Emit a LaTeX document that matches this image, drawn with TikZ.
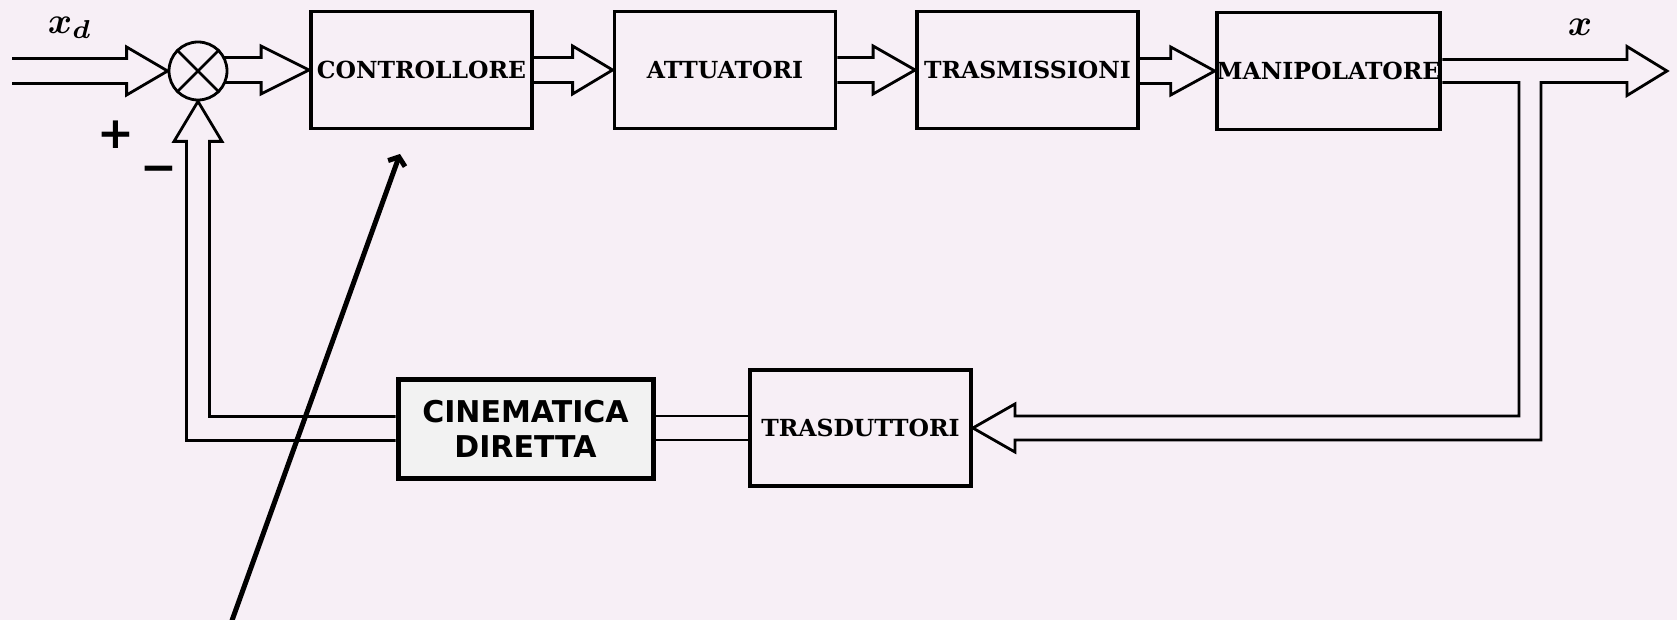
\documentclass[tikz,border=0pt]{standalone}
\usepackage{bm}
\usepackage{fontspec}
\usetikzlibrary{calc,arrows.meta}
\newfontfamily\blockfont{DejaVu Serif}
\newfontfamily\cinfont{DejaVu Sans}
\definecolor{paper}{RGB}{247,239,246}
\definecolor{cingray}{RGB}{242,242,242}
\newcommand\hollowH[3]{% start coord, tip coord, head length
  \draw[conn] let \p1=(#1), \p2=(#2) in
    (\x1,\y2+12.5pt) -- (\x2-#3,\y2+12.5pt) -- (\x2-#3,\y2+24pt) -- (\x2,\y2)
    -- (\x2-#3,\y2-24pt) -- (\x2-#3,\y2-12.5pt) -- (\x1,\y2-12.5pt);}
\begin{document}
\begin{tikzpicture}[x=1pt,y=-1pt,
  block/.style={draw=black, line width=3.8pt, minimum width=221pt, minimum height=117pt,
    inner sep=0pt, font=\blockfont\bfseries\fontsize{23.5}{27}\selectfont},
  cinbox/.style={draw=black, fill=cingray, line width=5pt, minimum width=255pt, minimum height=99pt,
    inner sep=0pt, align=center, font=\cinfont\bfseries\fontsize{30}{35}\selectfont},
  conn/.style={line width=2.8pt, line join=miter, line cap=butt},
  sumnode/.style={draw=black, circle, minimum size=58pt, line width=2.8pt, inner sep=0pt},
  mathlbl/.style={inner sep=0pt, scale=3.7},
  signlbl/.style={inner sep=0pt, font=\cinfont\bfseries\fontsize{44}{48}\selectfont}]
\fill[paper] (0,0) rectangle (1677,620);
\useasboundingbox (0,0) rectangle (1677,620);

\node[block] (ctrl) at (421.5,70) {CONTROLLORE};
\node[block] (att) at (725,70) {ATTUATORI};
\node[block] (tras) at (1027.5,70) {TRASMISSIONI};
\node[block] (man) at (1328.5,71) {MANIPOLATORE};
\node[block, minimum height=116pt] (trd) at (860.5,428) {TRASDUTTORI};
\node[cinbox] (cin) at (525.5,428.5) {CINEMATICA\\DIRETTA};
\node[sumnode] (sum) at (198,71) {};
\draw[conn] (sum.north east) -- (sum.south west) (sum.north west) -- (sum.south east);

\coordinate (in) at (12,70);
\coordinate (sumout) at (224,71);
\coordinate (out) at (1667,71);
\coordinate (fb) at (1530,250);

% forward path
\hollowH{in}{sum.west}{41pt}
\hollowH{sumout}{ctrl.west}{48pt}
\hollowH{ctrl.east}{att.west}{40pt}
\hollowH{att.east}{tras.west}{42pt}
\hollowH{tras.east}{man.west}{44pt}

% output and feedback to transducers
\draw[conn] let \p1=(man.east), \p2=(out), \p3=(fb), \p4=(trd.east) in
  (\x1,\y2+11.5pt) -- (\x2-40pt,\y2+11.5pt) -- (\x2-40pt,\y2+24.5pt) -- (\x2,\y2)
  -- (\x2-40pt,\y2-24.5pt) -- (\x2-40pt,\y2-11.5pt) -- (\x3+11pt,\y2-11.5pt)
  -- (\x3+11pt,\y4-12pt) -- (\x4+42pt,\y4-12pt) -- (\x4+42pt,\y4-24pt) -- (\x4,\y4)
  -- (\x4+42pt,\y4+24pt) -- (\x4+42pt,\y4+12pt) -- (\x3-11pt,\y4+12pt)
  -- (\x3-11pt,\y2-11.5pt) -- (\x1,\y2-11.5pt);

% transducers to direct kinematics
\draw[conn] let \p1=(cin.east), \p2=(trd.west) in
  (\x1,\y2+12pt) -- (\x2,\y2+12pt) (\x1,\y2-12pt) -- (\x2,\y2-12pt);

% direct kinematics back to summing junction
\draw[conn] let \p1=(sum.south), \p2=(cin.west) in
  (\x2,\y2+12pt) -- (\x1+11.5pt,\y2+12pt) -- (\x1+11.5pt,\y1-40pt) -- (\x1+24pt,\y1-40pt)
  -- (\x1,\y1) -- (\x1-24pt,\y1-40pt) -- (\x1-11.5pt,\y1-40pt) -- (\x1-11.5pt,\y2-12pt)
  -- (\x2,\y2-12pt);

% labels
\node[mathlbl] (xd) at (70,28) {$\bm{x}_{\bm{d}}$};
\node[mathlbl] (xo) at (1580,27) {$\bm{x}$};
\node[signlbl] (plus) at (116,135) {+};
\node[signlbl] (minus) at (159,174) {−};

% pointer arrow
\coordinate (p0) at (230,626);
\coordinate (p1) at (400,154);
\draw[line width=5pt, -{Straight Barb[length=7pt,width=18pt]}] (p0) -- (p1);
\end{tikzpicture}
\end{document}
